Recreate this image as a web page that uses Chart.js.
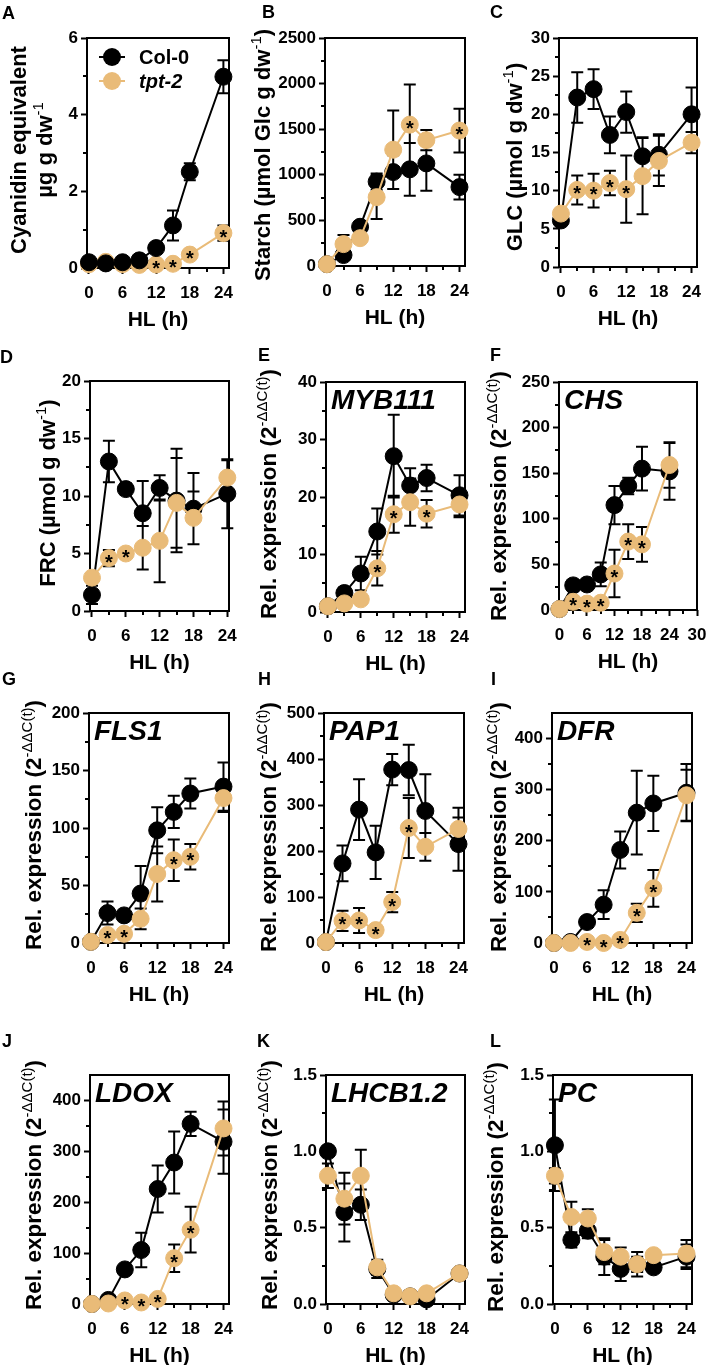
<!DOCTYPE html>
<html>
<head>
<meta charset="utf-8">
<script src="https://cdn.jsdelivr.net/npm/chart.js@4.4.1/dist/chart.umd.min.js"></script>
<style>
  body { margin: 0; background: #fff; width: 706px; height: 1365px; position: relative; overflow: hidden;
         font-family: 'Liberation Sans', Arial, Helvetica, sans-serif; color: #000; }
  canvas { position: absolute; }
  .ytitle { position: absolute; transform: translate(-50%, -50%) rotate(-90deg); white-space: nowrap;
            font-weight: bold; line-height: 1; }
  .ytitle sup { font-weight: normal; font-size: 15px; }
  .letter { position: absolute; font-weight: bold; font-size: 18px; line-height: 1; }
</style>
</head>
<body>
<script>
'use strict';

// shared x values (hours of high light)
const hours = [0, 3, 6, 9, 12, 15, 18, 24];
const seriesNames = ['Col-0', 'tpt-2'];

// A - cyanidin equivalent
const cyanidinCol = [0.15, 0.12, 0.15, 0.2, 0.52, 1.11, 2.51, 4.99];
const cyanidinColSd = [0.05, 0.05, 0.05, 0.05, 0.1, 0.39, 0.22, 0.43];
const cyanidinTpt = [0.1, 0.16, 0.1, 0.08, 0.09, 0.11, 0.35, 0.91];
const cyanidinTptSd = [0.05, 0.05, 0.03, 0.03, 0.04, 0.05, 0.08, 0.2];
const cyanidinStars = [12, 15, 18, 24];

// B - starch
const starchCol = [20, 120, 430, 925, 1030, 1060, 1125, 865];
const starchColSd = [10, 40, 40, 90, 185, 290, 300, 135];
const starchTpt = [20, 240, 305, 755, 1275, 1550, 1380, 1485];
const starchTptSd = [10, 100, 30, 240, 430, 440, 110, 240];
const starchStars = [15, 24];

// C - glucose
const glcCol = [6.1, 22.2, 23.3, 17.3, 20.3, 14.5, 14.7, 20.0];
const glcColSd = [0.5, 3.3, 2.6, 2.4, 2.7, 2.5, 2.7, 3.5];
const glcTpt = [7.0, 10.1, 10.0, 11.0, 10.2, 11.9, 13.9, 16.3];
const glcTptSd = [0.5, 1.9, 2.2, 1.6, 4.4, 5.0, 3.3, 1.4];
const glcStars = [3, 6, 9, 12];

// D - fructose
const frcCol = [1.4, 13.0, 10.6, 8.5, 10.7, 9.6, 8.9, 10.2];
const frcColSd = [0.8, 1.8, 0.5, 2.8, 1.1, 4.5, 3.1, 3.0];
const frcTpt = [2.9, 4.6, 5.0, 5.5, 6.1, 9.4, 8.1, 11.6];
const frcTptSd = [0.4, 0.7, 0.3, 1.9, 3.6, 3.9, 2.3, 1.5];
const frcStars = [3, 6];

// E - MYB111
const mybCol = [1.0, 3.3, 6.7, 14.0, 27.1, 22.0, 23.3, 20.3];
const mybColSd = [0.3, 1.0, 2.9, 4.0, 7.2, 3.0, 2.3, 3.5];
const mybTpt = [1.0, 1.5, 2.2, 7.6, 17.0, 19.1, 17.1, 18.7];
const mybTptSd = [0.3, 0.5, 0.6, 3.0, 3.2, 4.1, 2.4, 2.2];
const mybStars = [9, 12, 18];

// F - CHS
const chsCol = [1, 27, 28, 39, 115, 136, 155, 152];
const chsColSd = [0.5, 3, 3, 13, 21, 9, 24, 31];
const chsTpt = [1, 9, 7, 8, 40, 75, 72, 159];
const chsTptSd = [0.5, 3, 3, 3, 26, 19, 19, 25];
const chsStars = [3, 6, 9, 12, 15, 18];

// G - FLS1
const flsCol = [1, 26, 24, 43, 98, 114, 130, 136];
const flsColSd = [0.5, 10, 3, 24, 20, 14, 13, 21];
const flsTpt = [1, 7, 8, 21, 60, 72, 75, 126];
const flsTptSd = [0.5, 2, 2, 9, 24, 18, 11, 12];
const flsStars = [3, 6, 15, 18];

// H - PAP1
const papCol = [2, 173, 290, 197, 377, 376, 287, 215];
const papColSd = [1, 39, 66, 58, 34, 55, 80, 58];
const papTpt = [2, 48, 49, 28, 89, 250, 209, 248];
const papTptSd = [1, 22, 27, 5, 22, 65, 30, 46];
const papStars = [3, 6, 9, 12, 15];

// I - DFR
const dfrCol = [0, 2, 41, 75, 182, 255, 273, 294];
const dfrColSd = [0, 2, 5, 28, 36, 82, 54, 56];
const dfrTpt = [0, 0, 2, 0, 6, 59, 107, 289];
const dfrTptSd = [0, 0, 1, 1, 2, 18, 36, 50];
const dfrStars = [6, 9, 12, 15, 18];

// J - LDOX
const ldoxCol = [0, 8, 68, 106, 226, 278, 354, 319];
const ldoxColSd = [0, 3, 5, 34, 46, 61, 24, 63];
const ldoxTpt = [0, 1, 7, 3, 10, 90, 146, 345];
const ldoxTptSd = [0, 0, 2, 1, 3, 27, 45, 53];
const ldoxStars = [6, 9, 12, 15, 18];

// K - LHCB1.2
const lhcbCol = [1.0, 0.6, 0.65, 0.23, 0.06, 0.05, 0.03, 0.2];
const lhcbColSd = [0.03, 0.19, 0.1, 0.06, 0.02, 0.02, 0.01, 0.02];
const lhcbTpt = [0.84, 0.69, 0.84, 0.24, 0.07, 0.05, 0.07, 0.2];
const lhcbTptSd = [0.08, 0.17, 0.17, 0.05, 0.02, 0.02, 0.02, 0.02];

// L - PC
const pcCol = [1.04, 0.42, 0.48, 0.31, 0.23, 0.26, 0.24, 0.31];
const pcColSd = [0.3, 0.05, 0.05, 0.12, 0.08, 0.05, 0.02, 0.08];
const pcTpt = [0.84, 0.57, 0.56, 0.34, 0.31, 0.26, 0.32, 0.33];
const pcTptSd = [0.05, 0.1, 0.06, 0.08, 0.06, 0.08, 0.02, 0.09];

const FONT = "'Liberation Sans', Arial, Helvetica, sans-serif";
const BLACK = '#000000';
const TAN = '#E9BB78';
const relTitle = 'Rel. expression (2<sup>-\u0394\u0394C(t)</sup>)';

// room around the plot box inside each canvas
const PAD_L = 75, PAD_T = 25, PAD_R = 20, X_AXIS_H = 65;
const CAP = 6;

Chart.defaults.font.family = FONT;
Chart.defaults.color = BLACK;

// box = [left, top, right, bottom] of the plot frame on the page
const panels = [
  { letter: 'A', at: [2, 4], col: cyanidinCol, colSd: cyanidinColSd, tpt: cyanidinTpt, tptSd: cyanidinTptSd,
    stars: cyanidinStars, box: [87, 38, 229, 268], xMax: 25, yMax: 6, yStep: 2, yMinor: 1, dec: 0,
    legend: true, colOnTop: true,
    title: ['Cyanidin equivalent', '\u00b5g g dw<sup>-1</sup>'], titleX: [19, 43], titleY: 150, titleSize: 22 },
  { letter: 'B', at: [262, 3], col: starchCol, colSd: starchColSd, tpt: starchTpt, tptSd: starchTptSd,
    stars: starchStars, box: [325, 38, 465, 266], xMax: 25, yMax: 2500, yStep: 500, yMinor: 250, dec: 0,
    title: ['Starch (\u00b5mol Glc g dw<sup>-1</sup>)'], titleX: [261], titleY: 155, titleSize: 22 },
  { letter: 'C', at: [490, 3], col: glcCol, colSd: glcColSd, tpt: glcTpt, tptSd: glcTptSd,
    stars: glcStars, box: [559, 38, 697, 267], xMax: 25, yMax: 30, yStep: 5, yMinor: 2.5, dec: 0,
    title: ['GLC (\u00b5mol g dw<sup>-1</sup>)'], titleX: [513], titleY: 157, titleSize: 22 },
  { letter: 'D', at: [0, 348], col: frcCol, colSd: frcColSd, tpt: frcTpt, tptSd: frcTptSd,
    stars: frcStars, box: [90, 381, 229, 611], xMax: 24.3, yMax: 20, yStep: 5, yMinor: 2.5, dec: 0,
    title: ['FRC (\u00b5mol g dw<sup>-1</sup>)'], titleX: [46], titleY: 493, titleSize: 22 },
  { letter: 'E', at: [258, 346], col: mybCol, colSd: mybColSd, tpt: mybTpt, tptSd: mybTptSd,
    stars: mybStars, box: [326, 382, 465, 612], xMax: 25, yMax: 40, yStep: 10, yMinor: 5, dec: 0,
    gene: 'MYB111', title: [relTitle], titleX: [267], titleY: 494, titleSize: 22.5 },
  { letter: 'F', at: [490, 346], col: chsCol, colSd: chsColSd, tpt: chsTpt, tptSd: chsTptSd,
    stars: chsStars, box: [559, 382, 697, 610], xMin: -0.1, xMax: 30, xLast: 30, yMax: 250, yStep: 50, yMinor: 25, dec: 0,
    gene: 'CHS', title: [relTitle], titleX: [497], titleY: 496, titleSize: 22.5 },
  { letter: 'G', at: [2, 670], col: flsCol, colSd: flsColSd, tpt: flsTpt, tptSd: flsTptSd,
    stars: flsStars, box: [89, 713, 229, 943], xMax: 25, yMax: 200, yStep: 50, yMinor: 25, dec: 0,
    gene: 'FLS1', title: [relTitle], titleX: [32], titleY: 825, titleSize: 22.5 },
  { letter: 'H', at: [258, 670], col: papCol, colSd: papColSd, tpt: papTpt, tptSd: papTptSd,
    stars: papStars, box: [324, 713, 464, 943], xMax: 25, yMax: 500, yStep: 100, yMinor: 50, dec: 0,
    gene: 'PAP1', title: [relTitle], titleX: [267], titleY: 827, titleSize: 22.5 },
  { letter: 'I', at: [491, 670], col: dfrCol, colSd: dfrColSd, tpt: dfrTpt, tptSd: dfrTptSd,
    stars: dfrStars, box: [552, 713, 692, 943], xMax: 25, yMax: 450, yTop: 400, yStep: 100, yMinor: 50, dec: 0,
    gene: 'DFR', title: [relTitle], titleX: [497], titleY: 827, titleSize: 22.5 },
  { letter: 'J', at: [2, 1032], col: ldoxCol, colSd: ldoxColSd, tpt: ldoxTpt, tptSd: ldoxTptSd,
    stars: ldoxStars, box: [90, 1075, 229, 1304], xMax: 25, yMax: 450, yTop: 400, yStep: 100, yMinor: 50, dec: 0,
    gene: 'LDOX', title: [relTitle], titleX: [32], titleY: 1185, titleSize: 22.5 },
  { letter: 'K', at: [257, 1032], col: lhcbCol, colSd: lhcbColSd, tpt: lhcbTpt, tptSd: lhcbTptSd,
    stars: [], box: [326, 1075, 465, 1304], xMax: 25, yMax: 1.5, yStep: 0.5, yMinor: 0.25, dec: 1,
    gene: 'LHCB1.2', title: [relTitle], titleX: [268], titleY: 1185, titleSize: 22.5 },
  { letter: 'L', at: [490, 1032], col: pcCol, colSd: pcColSd, tpt: pcTpt, tptSd: pcTptSd,
    stars: [], box: [553, 1075, 692, 1304], xMax: 25, yMax: 1.5, yStep: 0.5, yMinor: 0.25, dec: 1,
    gene: 'PC', title: [relTitle], titleX: [494], titleY: 1187, titleSize: 22.5 }
];

function isMultiple(v, step) {
  const r = v / step;
  return Math.abs(r - Math.round(r)) < 1e-6;
}

// frame, minor ticks, error bars, asterisks, gene name and legend
const prismPlugin = {
  id: 'prism',
  beforeDatasetsDraw(chart, args, opts) {
    const { ctx, chartArea: a, scales: { x, y } } = chart;
    ctx.save();
    ctx.strokeStyle = BLACK;
    ctx.lineWidth = 2;
    ctx.strokeRect(a.left, a.top, a.right - a.left, a.bottom - a.top);

    ctx.beginPath();
    for (let v = 0; v <= opts.yMax + 1e-9; v += opts.yMinor) {
      if (isMultiple(v, opts.yStep)) continue;
      const py = Math.round(y.getPixelForValue(v));
      ctx.moveTo(a.left - 4, py);
      ctx.lineTo(a.left, py);
    }
    for (let v = 3; v <= opts.xLast; v += 6) {
      const px = Math.round(x.getPixelForValue(v));
      ctx.moveTo(px, a.bottom);
      ctx.lineTo(px, a.bottom + 4);
    }
    ctx.stroke();

    // error bars sit behind the markers
    ctx.beginPath();
    chart.data.datasets.forEach(ds => {
      ds.data.forEach((pt, i) => {
        const sd = ds.sd[i];
        if (!sd) return;
        const px = x.getPixelForValue(pt.x);
        const yHi = y.getPixelForValue(pt.y + sd);
        const yLo = y.getPixelForValue(pt.y - sd);
        ctx.moveTo(px, yHi); ctx.lineTo(px, yLo);
        ctx.moveTo(px - CAP, yHi); ctx.lineTo(px + CAP, yHi);
        ctx.moveTo(px - CAP, yLo); ctx.lineTo(px + CAP, yLo);
      });
    });
    ctx.stroke();
    ctx.restore();
  },
  afterDatasetsDraw(chart, args, opts) {
    const { ctx, chartArea: a, scales: { x, y } } = chart;
    ctx.save();
    ctx.fillStyle = BLACK;
    ctx.textAlign = 'center';
    ctx.textBaseline = 'middle';
    ctx.font = 'bold 20px ' + FONT;
    chart.data.datasets.forEach(ds => {
      if (!ds.stars) return;
      ds.data.forEach(pt => {
        if (!ds.stars.includes(pt.x)) return;
        ctx.fillText('*', x.getPixelForValue(pt.x), y.getPixelForValue(pt.y) + 5);
      });
    });

    if (opts.gene) {
      ctx.textAlign = 'left';
      ctx.font = 'italic bold 28px ' + FONT;
      ctx.fillText(opts.gene, a.left + 5, a.top + 19);
    }

    if (opts.legend) {
      chart.data.datasets.slice().sort((p, q) => p.legendRow - q.legendRow).forEach((ds, k) => {
        const ly = a.top + 19 + k * 24;
        ctx.strokeStyle = ds.borderColor;
        ctx.lineWidth = 2;
        ctx.beginPath();
        ctx.moveTo(a.left + 12, ly);
        ctx.lineTo(a.left + 38, ly);
        ctx.stroke();
        ctx.fillStyle = ds.borderColor;
        ctx.beginPath();
        ctx.arc(a.left + 25, ly, 9, 0, Math.PI * 2);
        ctx.fill();
        ctx.fillStyle = BLACK;
        ctx.textAlign = 'left';
        ctx.font = (k === 1 ? 'italic ' : '') + 'bold 20px ' + FONT;
        ctx.fillText(ds.label, a.left + 52, ly + 1);
      });
    }
    ctx.restore();
  }
};

function series(label, values, sd, color, order, row, stars) {
  return {
    label: label,
    data: hours.map((h, i) => ({ x: h, y: values[i] })),
    sd: sd,
    stars: stars,
    legendRow: row,
    order: order,
    borderColor: color,
    backgroundColor: color,
    borderWidth: 2,
    pointRadius: 8.5,
    pointBorderWidth: 1,
    pointBackgroundColor: color,
    pointBorderColor: color,
    tension: 0,
    clip: false
  };
}

function addText(cls, html, left, top, extra) {
  const d = document.createElement('div');
  d.className = cls;
  d.innerHTML = html;
  d.style.left = left + 'px';
  d.style.top = top + 'px';
  Object.assign(d.style, extra || {});
  document.body.appendChild(d);
}

panels.forEach(p => {
  const [L, T, R, B] = p.box;
  const w = R - L + PAD_L + PAD_R;
  const h = B - T + PAD_T + X_AXIS_H;
  const cv = document.createElement('canvas');
  cv.width = w; cv.height = h;
  cv.style.left = (L - PAD_L) + 'px';
  cv.style.top = (T - PAD_T) + 'px';
  cv.style.width = w + 'px';
  cv.style.height = h + 'px';
  document.body.appendChild(cv);

  const xLast = p.xLast || 24;
  const xMajors = [];
  for (let v = 0; v <= xLast; v += 6) xMajors.push(v);
  const yMajors = [];
  for (let v = 0; v <= (p.yTop || p.yMax) + 1e-9; v += p.yStep) yMajors.push(+v.toFixed(3));

  const tickFont = { size: 17, weight: 'bold' };

  new Chart(cv, {
    type: 'line',
    data: {
      datasets: [
        series(seriesNames[0], p.col, p.colSd, BLACK, p.colOnTop ? 1 : 2, 0, null),
        series(seriesNames[1], p.tpt, p.tptSd, TAN, p.colOnTop ? 2 : 1, 1, p.stars)
      ]
    },
    options: {
      responsive: false,
      animation: false,
      devicePixelRatio: 1,
      events: [],
      layout: { padding: { left: 0, top: PAD_T, right: PAD_R, bottom: 0 } },
      plugins: {
        legend: { display: false },
        tooltip: { enabled: false },
        prism: { yMax: p.yTop || p.yMax, yStep: p.yStep, yMinor: p.yMinor, xLast: xLast,
                 gene: p.gene, legend: p.legend }
      },
      scales: {
        x: {
          type: 'linear',
          min: p.xMin !== undefined ? p.xMin : -0.35,
          max: p.xMax,
          afterBuildTicks: s => { s.ticks = xMajors.map(v => ({ value: v })); },
          afterFit: s => { s.height = X_AXIS_H; },
          ticks: { font: tickFont, color: BLACK, padding: 9, maxRotation: 0, autoSkip: false },
          grid: { drawOnChartArea: false, drawTicks: true, tickLength: 6, tickWidth: 2, tickColor: BLACK },
          border: { display: false },
          title: { display: true, text: 'HL (h)', color: BLACK, font: { size: 21, weight: 'bold' },
                   padding: { top: 0, bottom: 0 } }
        },
        y: {
          type: 'linear',
          min: 0,
          max: p.yMax,
          afterBuildTicks: s => { s.ticks = yMajors.map(v => ({ value: v })); },
          afterFit: s => { s.width = PAD_L; },
          ticks: { font: tickFont, color: BLACK, padding: 3, autoSkip: false,
                   callback: v => Number(v).toFixed(p.dec) },
          grid: { drawOnChartArea: false, drawTicks: true, tickLength: 6, tickWidth: 2, tickColor: BLACK },
          border: { display: false }
        }
      }
    },
    plugins: [prismPlugin]
  });

  p.title.forEach((t, k) => {
    addText('ytitle', t, p.titleX[k], p.titleY, { fontSize: p.titleSize + 'px' });
  });
  addText('letter', p.letter, p.at[0], p.at[1]);
});
</script>
</body>
</html>
